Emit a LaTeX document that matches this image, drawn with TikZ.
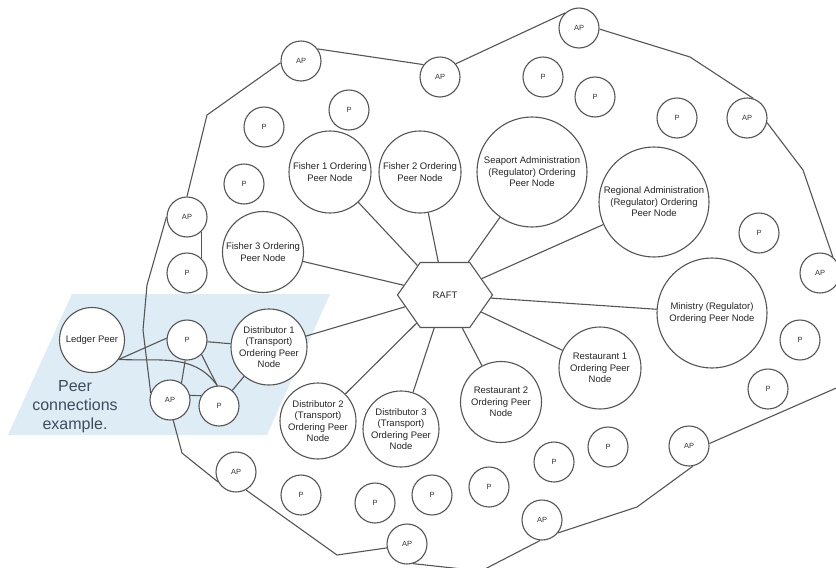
\documentclass[tikz,border=0pt]{standalone}
\usepackage{fontspec}
\setmainfont{Liberation Sans}
\usetikzlibrary{shapes.symbols}
\definecolor{linec}{HTML}{555555}
\definecolor{bluebg}{HTML}{DDECF5}
\definecolor{bluetxt}{HTML}{3E4C5C}
\begin{document}
\begin{tikzpicture}[x=1pt,y=-1pt,
  peer/.style={circle,draw=linec,line width=1.1pt,fill=white,minimum size=40pt,inner sep=0pt,
    font=\fontsize{7.5}{9}\selectfont,text=black!80},
  big/.style={circle,draw=linec,line width=1.1pt,fill=white,inner sep=0pt,align=center,
    font=\fontsize{9.5}{11.5}\selectfont,text=black!85},
  hexa/.style={shape=signal,signal to=west and east,signal pointer angle=110,
    draw=linec,line width=1.1pt,fill=white,minimum width=95pt,minimum height=65pt,inner sep=0pt,
    font=\fontsize{9.5}{11.5}\selectfont,text=black!85},
  spoke/.style={draw=linec,line width=1.1pt},
  bnd/.style={draw=linec,line width=1.1pt,line join=round},
  note/.style={align=center,text=bluetxt,font=\fontsize{16}{19}\selectfont}]
\useasboundingbox (0,0) rectangle (836,568);
\fill[white] (0,0) rectangle (836,568);
\clip (0,0) rectangle (836,568);
% blue example area
\fill[bluebg] (72,294) -- (330,294) -- (267,435) -- (8,435) -- cycle;
\node[note] (notetxt) at (75,407) {Peer\\connections\\example.};
% AP nodes
\node[peer] (apTL) at (301,61) {AP};
\node[peer] (ap2) at (440,77) {AP};
\node[peer] (apT) at (579,28) {AP};
\node[peer] (apTR) at (747,118) {AP};
\node[peer] (apR) at (820,273) {AP};
\node[peer] (apBR) at (689,446) {AP};
\node[peer] (apB2) at (542,520) {AP};
\node[peer] (apB1) at (407,544) {AP};
\node[peer] (apBL) at (236,472) {AP};
\node[peer] (apLB) at (170,400) {AP};
\node[peer] (apL) at (187,217) {AP};
% P nodes
\node[peer] (p1) at (349,110) {P};
\node[peer] (p2) at (264,127) {P};
\node[peer] (p3) at (244,184) {P};
\node[peer] (p4) at (187,273) {P};
\node[peer] (p5) at (543,77) {P};
\node[peer] (p6) at (595,97) {P};
\node[peer] (p7) at (677,118) {P};
\node[peer] (p8) at (759,233) {P};
\node[peer] (p9) at (800,340) {P};
\node[peer] (p10) at (768,389) {P};
\node[peer] (p11) at (608,447) {P};
\node[peer] (p12) at (554,462) {P};
\node[peer] (p13) at (489,487) {P};
\node[peer] (p14) at (432,495) {P};
\node[peer] (p15) at (375,503) {P};
\node[peer] (p16) at (301,495) {P};
\node[peer] (pU) at (187,340) {P};
\node[peer] (pD) at (219,406) {P};
% ordering peer nodes
\node[big,minimum size=82pt] (f1) at (330,172) {Fisher 1 Ordering\\Peer Node};
\node[big,minimum size=82pt] (f2) at (420,172) {Fisher 2 Ordering\\Peer Node};
\node[big,minimum size=81pt] (f3) at (263,252) {Fisher 3 Ordering\\Peer Node};
\node[big,minimum size=110pt] (sea) at (532,172) {Seaport Administration\\(Regulator) Ordering\\Peer Node};
\node[big,minimum size=110pt] (reg) at (654,202) {Regional Administration\\(Regulator) Ordering\\Peer Node};
\node[big,minimum size=110pt] (mini) at (712,313) {Ministry (Regulator)\\Ordering Peer Node};
\node[big,minimum size=82pt] (r1) at (600,368) {Restaurant 1\\Ordering Peer\\Node};
\node[big,minimum size=81pt] (r2) at (501,402) {Restaurant 2\\Ordering Peer\\Node};
\node[big,minimum size=76pt] (d1) at (269,347) {Distributor 1\\(Transport)\\Ordering Peer\\Node};
\node[big,minimum size=76pt] (d2) at (318,421) {Distributor 2\\(Transport)\\Ordering Peer\\Node};
\node[big,minimum size=76pt] (d3) at (401,429) {Distributor 3\\(Transport)\\Ordering Peer\\Node};
\node[big,minimum size=65pt] (ledger) at (92,340) {Ledger Peer};
\node[hexa] (raft) at (445,295) {RAFT};
% spokes
\foreach \n in {f1,f2,f3,sea,reg,mini,r1,r2,d1,d2,d3}
  \draw[spoke] (raft) -- (\n);
% outer boundary
\draw[bnd] (apTL.185) -- (207,115) -- (apL.90);
\draw[bnd] (apTL.36) -- (ap2.143);
\draw[bnd] (ap2.40) -- (apT.133);
\draw[bnd] (apT.-3) -- (690,57) -- (apTR.72);
\draw[bnd] (apTR.-13) -- (803,170) -- (apR.51);
\draw[bnd] (850,382) -- (apBR.7);
\draw[bnd] (apBR.-79) -- (637,507) -- (apB2.-39);
\draw[bnd] (apB2.-95) -- (481,571) -- (apB1.-73);
\draw[bnd] (apB1.191) -- (337,555) -- (apBL.-61);
\draw[bnd] (apBL.209) -- (182,453) -- (apLB.-81);
\draw[bnd] (apL.180) -- (147,285) -- (143,330) -- (apLB.160);
\draw[bnd] (apL.-45) -- (p4.45);
% peer connections example
\draw[spoke] (ledger.-36) -- (pU.175);
\draw[spoke] (ledger.-36) to[out=-3,in=125] (pD.95);
\draw[spoke] (pU) -- (d1);
\draw[spoke] (pU.-45) -- (pD.95);
\draw[spoke] (pU.-95) -- (apLB.56);
\draw[spoke] (apLB.13) -- (pD.150);
\draw[spoke] (pD) -- (d1);
\end{tikzpicture}
\end{document}
